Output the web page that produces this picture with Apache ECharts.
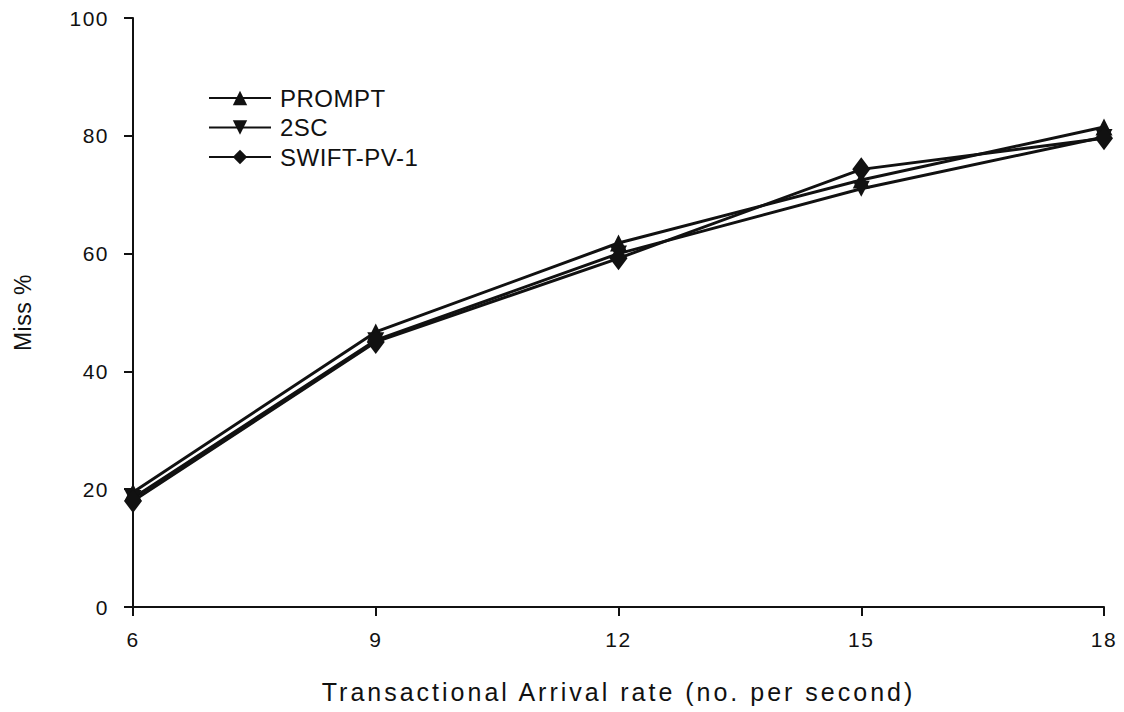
<!DOCTYPE html>
<html><head><meta charset="utf-8">
<script src="https://cdn.jsdelivr.net/npm/echarts@6/dist/echarts.min.js"></script>
<style>html,body{margin:0;padding:0;background:#fff}#c{width:1124px;height:712px}</style>
</head><body><div id="c"></div>
<script>
const categories = [6, 9, 12, 15, 18];
const prompt = [19.5, 46.7, 61.8, 72.5, 81.5];
const twoSC = [18.5, 45.3, 60.0, 71.0, 79.8];
const swift = [18.0, 45.0, 59.2, 74.3, 79.6];
const yTicks = [0, 20, 40, 60, 80, 100];

const font = 'Liberation Sans, Arial, sans-serif';
const triDown = 'path://M0,0 L10,0 L5,9 Z';
function mk(name, data, symbol, size) {
  return {
    name, type: 'line', data: categories.map((x, i) => [x, data[i]]),
    symbol, symbolSize: size, showSymbol: true,
    lineStyle: { color: '#111', width: 3 },
    itemStyle: { color: '#111' },
    emphasis: { disabled: true }, animation: false
  };
}
const chart = echarts.init(document.getElementById('c'), null, { renderer: 'svg' });
chart.on('finished', () => {
  document.querySelectorAll('#c text').forEach(t => {
    const fs = parseFloat(getComputedStyle(t).fontSize) || 0;
    let ls = 0.5;
    if (fs >= 25) ls = 3; else if (fs >= 21 && fs < 22) ls = 1.5;
    t.style.letterSpacing = ls + 'px';
  });
});
chart.setOption({
  animation: false,
  grid: { left: 133, right: 20, top: 18, bottom: 105 },
  legend: {
    left: 203, top: 81, orient: 'vertical', itemGap: 5.5, itemWidth: 62, itemHeight: 18,
    textStyle: { fontFamily: font, fontSize: 24, color: '#111', padding: [0,0,0,4] },
    data: ['PROMPT', '2SC', 'SWIFT-PV-1']
  },
  xAxis: {
    type: 'value', min: 6, max: 18, interval: 3,
    name: 'Transactional Arrival rate (no. per second)', nameLocation: 'middle', nameGap: 72,
    nameTextStyle: { fontFamily: font, fontSize: 25, color: '#111' },
    axisLine: { lineStyle: { color: '#111', width: 2 } },
    axisTick: { show: true, length: 9, lineStyle: { color: '#111', width: 2 } },
    axisLabel: { fontFamily: font, fontSize: 21, color: '#111', margin: 22 },
    splitLine: { show: false }
  },
  yAxis: {
    type: 'value', min: 0, max: 100, interval: 20,
    name: 'Miss %', nameLocation: 'middle', nameGap: 99,
    nameTextStyle: { fontFamily: font, fontSize: 23, color: '#111' },
    axisLine: { show: true, lineStyle: { color: '#111', width: 2 } },
    axisTick: { show: true, length: 9, lineStyle: { color: '#111', width: 2 } },
    axisLabel: { fontFamily: font, fontSize: 21, color: '#111', margin: 24,
      formatter: v => yTicks.includes(v) ? String(v) : '' },
    splitLine: { show: false }
  },
  series: [
    mk('PROMPT', prompt, 'triangle', [17, 17]),
    mk('2SC', twoSC, triDown, [17, 16]),
    mk('SWIFT-PV-1', swift, 'diamond', [18, 24])
  ]
});
</script></body></html>
